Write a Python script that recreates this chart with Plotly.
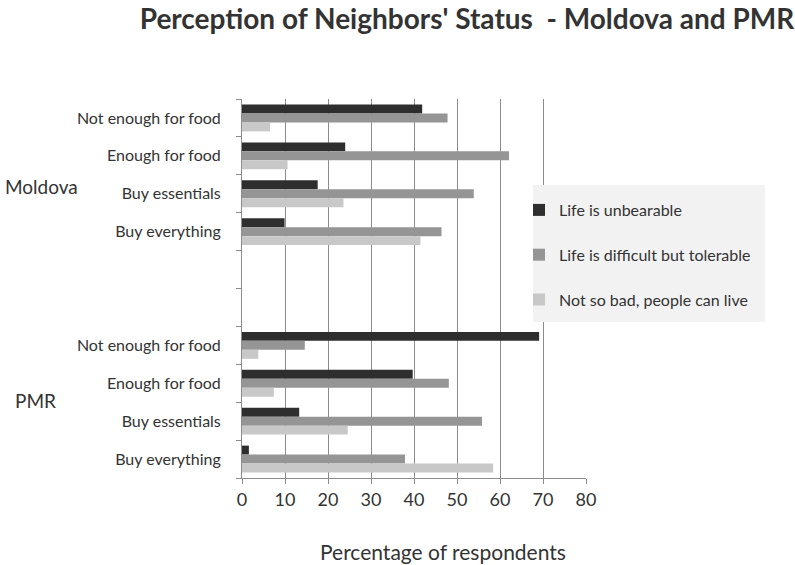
import plotly.graph_objects as go

# ---- data ----
categories = ["Not enough for food", "Enough for food", "Buy essentials", "Buy everything"]
regions = ["Moldova", "PMR"]
series_names = ["Life is unbearable", "Life is difficult but tolerable", "Not so bad, people can live"]

moldova_unbearable = [41.9, 24.0, 17.6, 9.9]
moldova_difficult = [47.8, 62.1, 53.9, 46.4]
moldova_notbad = [6.5, 10.6, 23.6, 41.5]

pmr_unbearable = [69.1, 39.7, 13.3, 1.6]
pmr_difficult = [14.6, 48.1, 55.8, 37.9]
pmr_notbad = [3.8, 7.4, 24.6, 58.4]

x_ticks = [0, 10, 20, 30, 40, 50, 60, 70, 80]

colors = ["#2e2e2e", "#959595", "#c8c8c8"]
FONT = "Lato, 'Open Sans', sans-serif"

# build unique category ids: Moldova rows, two empty rows, PMR rows
gap_ids = ["gap1", "gap2"]
y_ids = [f"{regions[0]}|{c}" for c in categories] + gap_ids + [f"{regions[1]}|{c}" for c in categories]
y_text = categories + ["", ""] + categories

series = [
    moldova_unbearable + [None, None] + pmr_unbearable,
    moldova_difficult + [None, None] + pmr_difficult,
    moldova_notbad + [None, None] + pmr_notbad,
]

fig = go.Figure()
for name, vals, col in zip(series_names, series, colors):
    fig.add_trace(go.Bar(
        x=vals, y=y_ids, orientation="h", name=name,
        marker=dict(color=col, line=dict(width=0)),
        legendgroup=name,
    ))

W, H = 795, 565
L, R, T, B = 242, 586, 99, 478

def px_x(p):
    return (p - L) / (R - L)

def px_y(p):
    return (B - p) / (B - T)

fig.update_layout(
    width=W, height=H,
    margin=dict(l=L, r=W - R, t=T, b=H - B, autoexpand=False),
    paper_bgcolor="white", plot_bgcolor="white",
    barmode="group", bargap=0.29, bargroupgap=0,
    font=dict(family=FONT, color="#333333", size=16),
    title=dict(text="<b>Perception of Neighbors' Status  - Moldova and PMR</b>",
               x=467 / W, xanchor="center", y=1 - 19 / H, yanchor="middle",
               font=dict(size=28, color="#333333", family=FONT)),
    showlegend=True,
    legend=dict(x=px_x(519), y=px_y(193), xanchor="left", yanchor="top",
                bgcolor="rgba(0,0,0,0)", borderwidth=0, traceorder="grouped",
                tracegroupgap=21, font=dict(size=16, color="#333333"),
                itemwidth=30),
    shapes=[
        dict(type="rect", xref="paper", yref="paper",
             x0=px_x(533), x1=px_x(765), y0=px_y(322), y1=px_y(185),
             fillcolor="#f2f2f2", line=dict(width=0), layer="above"),
    ],
    xaxis=dict(range=[0, 80], tickvals=x_ticks, showgrid=True,
               gridcolor="#8c8c8c", gridwidth=1, zeroline=False,
               showline=True, linecolor="#8c8c8c", linewidth=1,
               ticks="outside", ticklen=5, tickcolor="#8c8c8c",
               tickfont=dict(size=18, color="#333333"), fixedrange=True),
    yaxis=dict(type="category", categoryorder="array", categoryarray=y_ids,
               autorange="reversed", tickvals=y_ids, ticktext=y_text,
               tickson="boundaries", ticks="outside", ticklen=5,
               tickcolor="#8c8c8c", showline=True, linecolor="#8c8c8c",
               linewidth=1, showgrid=False, ticklabelstandoff=17,
               tickfont=dict(size=16, color="#333333")),
    annotations=[
        dict(text=regions[0], xref="paper", yref="paper", x=px_x(41.5), y=px_y(186),
             xanchor="center", yanchor="middle", showarrow=False,
             font=dict(size=19, color="#333333")),
        dict(text=regions[1], xref="paper", yref="paper", x=px_x(35), y=px_y(400),
             xanchor="center", yanchor="middle", showarrow=False,
             font=dict(size=19, color="#333333")),
        dict(text="Percentage of respondents", xref="paper", yref="paper",
             x=px_x(443), y=px_y(551), xanchor="center", yanchor="middle",
             showarrow=False, font=dict(size=21, color="#333333")),
    ],
)

fig.write_html("out.html", config={"displayModeBar": False},
               post_script="document.body.style.margin='0';")
